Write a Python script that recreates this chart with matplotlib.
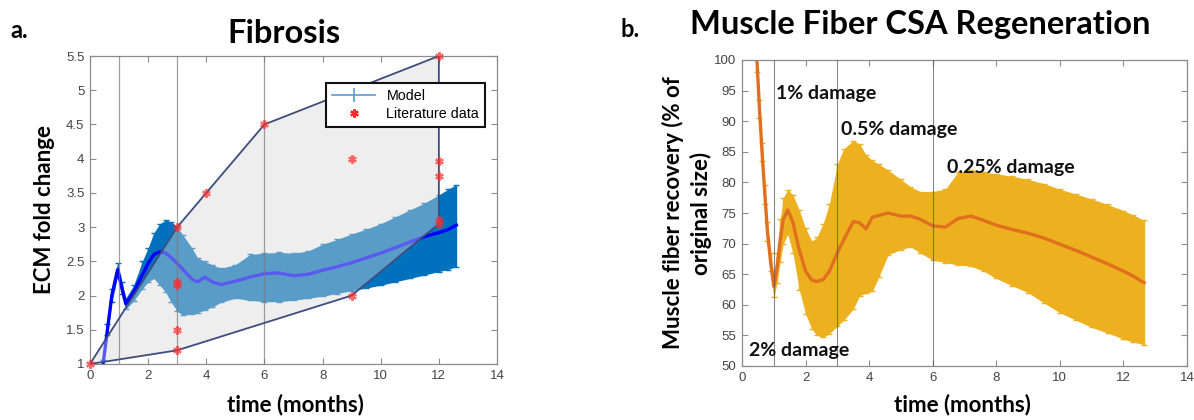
import matplotlib
matplotlib.use("Agg")
import matplotlib.pyplot as plt
from matplotlib.patches import Polygon
from matplotlib.lines import Line2D
import numpy as np

# ---------------- data: panel a (Fibrosis) ----------------
fib_t = [0.45, 0.6, 0.75, 0.95, 1.1, 1.23, 1.5, 1.8, 2.0, 2.2, 2.4, 2.6, 2.8, 3.0,
         3.2, 3.5, 3.7, 3.95, 4.2, 4.5, 5.0, 5.5, 6.0, 6.5, 7.0, 7.5, 8.0, 8.5,
         9.0, 9.5, 10.0, 10.5, 11.0, 11.5, 12.0, 12.3, 12.6]
fib_mean = [1.0, 1.5, 2.0, 2.38, 2.1, 1.88, 2.05, 2.3, 2.47, 2.6, 2.64, 2.62, 2.55, 2.47,
            2.38, 2.24, 2.2, 2.27, 2.2, 2.16, 2.21, 2.27, 2.32, 2.33, 2.29, 2.31, 2.37, 2.42,
            2.48, 2.55, 2.62, 2.7, 2.78, 2.86, 2.92, 2.96, 3.03]
fib_lo = [0.98, 1.42, 1.9, 2.28, 2.02, 1.8, 1.92, 2.1, 2.2, 2.25, 2.15, 2.05, 1.9, 1.77,
          1.71, 1.73, 1.75, 1.79, 1.83, 1.9, 1.96, 1.93, 1.91, 1.91, 1.93, 1.96, 1.99, 2.03,
          2.07, 2.11, 2.15, 2.2, 2.25, 2.3, 2.35, 2.38, 2.42]
fib_hi = [1.06, 1.58, 2.1, 2.48, 2.2, 1.96, 2.15, 2.5, 2.7, 2.92, 3.05, 3.1, 3.08, 3.0,
          2.88, 2.7, 2.55, 2.5, 2.45, 2.4, 2.45, 2.6, 2.62, 2.63, 2.62, 2.65, 2.75, 2.82,
          2.9, 2.97, 3.05, 3.15, 3.25, 3.35, 3.47, 3.55, 3.62]

lit_t = [0, 3, 3, 3, 3, 3, 4, 6, 9, 9, 12, 12, 12, 12, 12]
lit_y = [1.0, 3.0, 2.2, 2.15, 1.5, 1.2, 3.5, 4.5, 4.0, 2.0, 5.5, 3.97, 3.75, 3.1, 3.05]
hull_idx = [0, 5, 9, 14, 10, 7, 6, 1]   # outline of the literature range

fib_vlines = [1, 3, 6]
fib_yticks = [1, 1.5, 2, 2.5, 3, 3.5, 4, 4.5, 5, 5.5]
fib_yticklabels = ["1", "1.5", "2", "2.5", "3", "3.5", "4", "4.5", "5", "5.5"]

# ---------------- data: panel b (Muscle fiber CSA) ----------------
csa_t = [0.47, 0.55, 0.63, 0.72, 0.8, 0.9, 1.0, 1.1, 1.2, 1.3, 1.44, 1.6, 1.8, 2.0, 2.2,
         2.35, 2.55, 2.75, 3.0, 3.2, 3.5, 3.7, 3.9, 4.1, 4.3, 4.6, 5.0, 5.3, 5.6, 6.0,
         6.4, 6.8, 7.2, 7.6, 8.0, 8.5, 9.0, 9.5, 10.0, 10.5, 11.0, 11.5, 12.0, 12.3, 12.65]
csa_mean = [100, 92, 85, 78, 72, 67, 63, 66, 70.5, 74, 75.5, 73.5, 69, 65.5, 64,
            63.8, 64.1, 65.5, 68.5, 70.6, 73.6, 73.4, 72.4, 74.3, 74.6, 75.0, 74.5, 74.5, 74.0, 72.9,
            72.7, 74.1, 74.5, 73.8, 73.0, 72.3, 71.7, 70.9, 69.9, 68.9, 67.8, 66.7, 65.5, 64.7, 63.6]
csa_lo = [98, 90.5, 83.5, 76.5, 70.5, 65.5, 61.2, 63.5, 67, 70, 71.5, 68.5, 62.5, 58.5, 56,
          55, 54.7, 55.3, 56.5, 57.5, 59.3, 61.5, 61.9, 62.2, 64.5, 68.2, 69.0, 69.5, 68.5, 67.3,
          66.9, 66.5, 66.3, 65.5, 64.3, 63.1, 62.0, 60.3, 58.7, 57.5, 56.3, 55.4, 54.4, 53.9, 53.5]
csa_hi = [101, 93.5, 86.5, 79.5, 73.5, 68.5, 65, 68.5, 74, 77.5, 78.8, 78, 75.5, 72.5, 70.4,
          71, 73.2, 76.5, 83, 85.5, 86.8, 86.3, 84.5, 83.6, 83, 82, 80.5, 79.3, 78.5, 78.5,
          78.9, 81.7, 82.0, 81.7, 81.4, 81.0, 80.5, 79.8, 78.9, 78.1, 77.3, 76.4, 75.4, 74.7, 73.8]

csa_vlines = [1, 3, 6]
csa_labels = ["1% damage", "0.5% damage", "0.25% damage", "2% damage"]
csa_label_t = [1.07, 3.11, 6.45, 0.22]
csa_label_y = [94.6, 88.6, 82.5, 52.5]

xticks = [0, 2, 4, 6, 8, 10, 12, 14]

# ---------------- styling ----------------
W, H = 1194, 420
fig = plt.figure(figsize=(W / 100, H / 100), dpi=100)
fig.patch.set_facecolor("white")

BOLD = ["Lato", "DejaVu Sans"]
TICKF = ["Liberation Sans", "DejaVu Sans"]

def px_ax(l, r, t, b):
    return [l / W, 1 - b / H, (r - l) / W, (b - t) / H]

def style_axes(ax):
    for s in ax.spines.values():
        s.set_color("#8c8c8c")
        s.set_linewidth(0.9)
    ax.tick_params(direction="in", length=4, width=0.8, color="#8c8c8c",
                   top=True, right=True, labelsize=9.5, labelcolor="#444444", pad=4)
    for lab in ax.get_xticklabels() + ax.get_yticklabels():
        lab.set_family(TICKF)

def fx(x):
    return x / W

def fy(y):
    return 1 - y / H

# ---------------- panel a ----------------
ax1 = fig.add_axes(px_ax(90, 497, 56, 364))
t = np.array(fib_t)
m = np.array(fib_mean)
lo = np.array(fib_lo)
hi = np.array(fib_hi)
blue_band = "#0072BD"
ax1.fill_between(t, lo, hi, color=blue_band, lw=0, zorder=1)
ax1.errorbar(t, m, yerr=[m - lo, hi - m], fmt="none", ecolor=blue_band,
             elinewidth=1, capsize=2.5, zorder=1.5)
ax1.plot(t, m, color="#0000ff", lw=2.4, zorder=2)

hull = [(lit_t[i], lit_y[i]) for i in hull_idx]
ax1.add_patch(Polygon(hull, closed=True, facecolor=(216 / 255, 216 / 255, 216 / 255),
                      alpha=0.42, edgecolor="none", zorder=3))
ax1.add_patch(Polygon(hull, closed=True, facecolor="none", edgecolor="#3e4c7e",
                      lw=1.3, zorder=3.2))
for xv in fib_vlines:
    ax1.axvline(xv, color="#777777", lw=0.9, alpha=0.7, zorder=3.1)

ax1.plot(lit_t, lit_y, linestyle="none", marker=(6, 2, 0), markersize=6,
         markeredgewidth=1.6, color="#ff2a2a", alpha=0.7, zorder=4, clip_on=False)

ax1.set_xlim(0, 14)
ax1.set_ylim(1, 5.5)
ax1.set_xticks(xticks)
ax1.set_yticks(fib_yticks)
ax1.set_yticklabels(fib_yticklabels)
style_axes(ax1)

h_model = ax1.errorbar([], [], yerr=[], color="#5b9bd5", lw=1.2, capsize=3, label="Model")
h_lit = Line2D([], [], linestyle="none", marker=(6, 2, 0), markersize=6,
               markeredgewidth=1.6, color="#ff2a2a", label="Literature data")
leg = ax1.legend(handles=[h_model, h_lit], loc="upper right",
                 bbox_to_anchor=(0.988, 0.935), frameon=True, fancybox=False,
                 framealpha=1, edgecolor="#111111", prop={"family": TICKF, "size": 10.3},
                 handlelength=3.0, borderpad=0.4, labelspacing=0.3)
leg.get_frame().set_linewidth(1.5)
leg.set_zorder(10)

# ---------------- panel b ----------------
ax2 = fig.add_axes(px_ax(742, 1187, 60, 366))
t2 = np.array(csa_t)
m2 = np.array(csa_mean)
lo2 = np.array(csa_lo)
hi2 = np.array(csa_hi)
yel = "#EDB120"
ax2.fill_between(t2, lo2, hi2, color=yel, lw=0, zorder=1)
ax2.errorbar(t2, m2, yerr=[m2 - lo2, hi2 - m2], fmt="none", ecolor=yel,
             elinewidth=1, capsize=2.5, zorder=1.5)
ax2.plot(t2, m2, color="#E0701E", lw=2.4, zorder=2)
for xv in csa_vlines:
    ax2.axvline(xv, color="#555555", lw=0.8, alpha=0.7, zorder=3)
for s, xv, yv in zip(csa_labels, csa_label_t, csa_label_y):
    ax2.text(xv, yv, s, family=BOLD, fontweight="bold", fontsize=14,
             color="#111111", ha="left", va="center", zorder=5)
ax2.set_xlim(0, 14)
ax2.set_ylim(50, 100)
ax2.set_xticks(xticks)
ax2.set_yticks(np.arange(50, 101, 5))
style_axes(ax2)

# ---------------- figure texts ----------------
fig.text(fx(10), fy(38), "a.", family=BOLD, fontweight="bold", fontsize=17, va="baseline")
fig.text(fx(284), fy(43), "Fibrosis", family=BOLD, fontweight="bold", fontsize=23.5,
         ha="center", va="baseline")
fig.text(fx(621), fy(37), "b.", family=BOLD, fontweight="bold", fontsize=17, va="baseline")
fig.text(fx(920), fy(34), "Muscle Fiber CSA Regeneration", family=BOLD,
         fontweight="bold", fontsize=23.5, ha="center", va="baseline")

fig.text(fx(45), fy(210), "ECM fold change", family=BOLD, fontweight="bold",
         fontsize=16, rotation=90, ha="center", va="center")
fig.text(fx(687), fy(213), "Muscle fiber recovery (% of\noriginal size)", family=BOLD,
         fontweight="bold", fontsize=16, rotation=90, ha="center", va="center",
         multialignment="center", linespacing=1.3)
fig.text(fx(295), fy(405), "time (months)", family=BOLD, fontweight="bold",
         fontsize=16, ha="center", va="center")
fig.text(fx(962), fy(405), "time (months)", family=BOLD, fontweight="bold",
         fontsize=16, ha="center", va="center")

fig.savefig("out.png", dpi=100, facecolor="white")
